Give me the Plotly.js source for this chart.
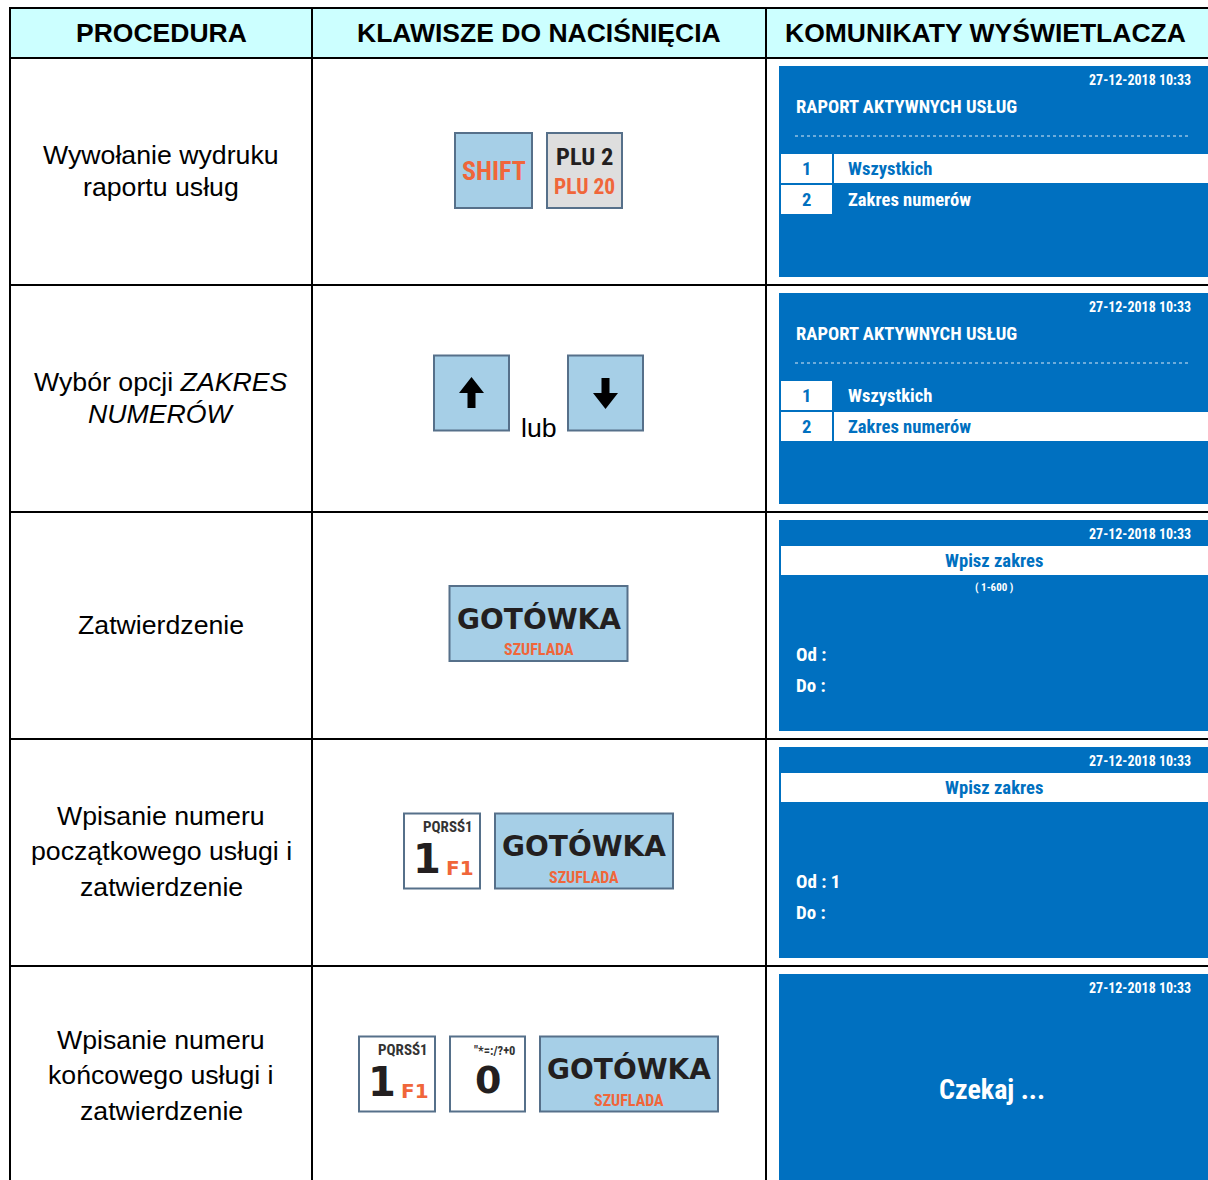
<!DOCTYPE html>
<html><head><meta charset="utf-8">
<script src="https://cdn.plot.ly/plotly-3.0.1.min.js"></script>
<style>html,body{margin:0;padding:0;background:#fff;overflow:hidden}</style>
</head><body><div id="chart" style="width:1208px;height:1180px"></div>
<script>
// ---------------- DATA ----------------
const headers = ["PROCEDURA", "KLAWISZE DO NACIŚNIĘCIA", "KOMUNIKATY WYŚWIETLACZA"];
const procedures = [
  ["Wywołanie wydruku", "raportu usług"],
  ["Wybór opcji <i>ZAKRES</i>", "<i>NUMERÓW</i>"],
  ["Zatwierdzenie"],
  ["Wpisanie numeru", "początkowego usługi i", "zatwierdzenie"],
  ["Wpisanie numeru", "końcowego usługi i", "zatwierdzenie"]
];
const keyRows = [["SHIFT", "PLU"], ["UP", "lub", "DOWN"], ["GOTOWKA"], ["1", "GOTOWKA"], ["1", "0", "GOTOWKA"]];
const keyLabels = {
  SHIFT: ["SHIFT"],
  PLU: ["PLU 2", "PLU 20"],
  GOTOWKA: ["GOTÓWKA", "SZUFLADA"],
  "1": ["PQRSŚ1", "1", "F1"],
  "0": ["\"*=:/?+0", "0"],
  UP: [], DOWN: []
};
const displayDate = "27-12-2018 10:33";
const displayKinds = ["menu", "menu", "range", "range", "wait"];
const menuTitle = "RAPORT AKTYWNYCH USŁUG";
const menuNumbers = ["1", "2"];
const menuOptions = ["Wszystkich", "Zakres numerów"];
const menuSelected = [0, 1, null, null, null];
const rangePrompt = "Wpisz zakres";
const rangeHints = [null, null, "( 1-600 )", "", null];
const rangeFields = ["Od :", "Do :"];
const rangeFromValues = [null, null, "", " 1", null];
const waitText = "Czekaj ...";

// ---------------- LAYOUT / STYLE ----------------
const W = 1208, H = 1180;
const colX = [10, 312, 766, 1210];
const headTop = 8, headBot = 58, rowH = 227;
const rowTop = i => headBot + i * rowH;
const SANS = "Liberation Sans, Arial, sans-serif";
const NARROW = "Roboto Condensed, Roboto, sans-serif";
const WIDE = "DejaVu Sans, Verdana, sans-serif";
const ORANGE = "#f0663a", DARK = "#231f20", KEYBLUE = "#a6cfe7", KEYEDGE = "#56708a";
const DISP = "#0070c0";

const procCenterOff = [113, 113, 113, 112, 109];
const procSpacing = [32, 32, 32, 35.5, 35.5];
const keyCenterOff = [112.5, 108, 111.5, 112, 108];
const keyH = 75;
const keyWidth = { SHIFT: 77, PLU: 75, UP: 75, DOWN: 75, GOTOWKA: 178, "1": 76, "0": 75, lub: 29 };
const keyFill = { SHIFT: KEYBLUE, PLU: "#dedede", UP: KEYBLUE, DOWN: KEYBLUE, GOTOWKA: KEYBLUE, "1": "#ffffff", "0": "#ffffff" };
const keyTextStyle = {
  SHIFT: [{dx: 0, dy: 0, size: 26, color: ORANGE, font: NARROW}],
  PLU: [{dx: 0, dy: -14, size: 24.5, color: DARK, font: NARROW}, {dx: 0, dy: 16, size: 21.5, color: ORANGE, font: NARROW}],
  GOTOWKA: [{dx: 0, dy: -5, size: 28, color: DARK, font: WIDE}, {dx: 0, dy: 26, size: 16, color: ORANGE, font: NARROW}],
  "1": [{dx: 6, dy: -24, size: 15, color: "#333", font: NARROW}, {dx: -15, dy: 8, size: 40, color: DARK, font: WIDE}, {dx: 18, dy: 17, size: 20, color: ORANGE, font: WIDE}],
  "0": [{dx: 7, dy: -24, size: 12.5, color: "#333", font: NARROW}, {dx: 0, dy: 6, size: 38, color: DARK, font: WIDE}]
};
const keyGap = 15, keysCenterX = 538.5;

const shapes = [];
const ann = [];
function rect(x0, y0, x1, y1, fill, lineColor, lw) {
  shapes.push({type: "rect", xref: "x", yref: "y", x0, y0, x1, y1, fillcolor: fill,
    line: {color: lineColor || fill, width: lw === undefined ? 0 : lw}, layer: "above"});
}
function line(x0, y0, x1, y1, color, w, dash) {
  shapes.push({type: "line", xref: "x", yref: "y", x0, y0, x1, y1, line: {color, width: w, dash: dash || "solid"}, layer: "above"});
}
function text(t, x, y, size, color, font, xanchor) {
  ann.push({text: t, x, y, xref: "x", yref: "y", showarrow: false, xanchor: xanchor || "center", yanchor: "middle",
    font: {size, color, family: font}, borderpad: 0});
}

// header
rect(colX[0], headTop, W + 2, headBot, "#ccffff");
const headCenters = [161, 538.5, 985];
headers.forEach((h, i) => text("<b>" + h + "</b>", headCenters[i], 33, 26.5, "#000", SANS));

// procedures
procedures.forEach((lines, r) => {
  const c = rowTop(r) + procCenterOff[r];
  const sp = procSpacing[r];
  lines.forEach((l, k) => text(l, 161, c + (k - (lines.length - 1) / 2) * sp, 26.7, "#000", SANS));
});

// keys
keyRows.forEach((row, r) => {
  const cy = rowTop(r) + keyCenterOff[r];
  const widths = row.map(k => keyWidth[k]);
  const total = widths.reduce((a, b) => a + b, 0) + keyGap * (row.length - 1);
  let x = keysCenterX - total / 2;
  row.forEach((k, j) => {
    const w = widths[j];
    const cx = x + w / 2;
    if (k === "lub") {
      text(k, cx, cy + 35, 26.7, "#000", SANS);
    } else {
      rect(x, cy - keyH / 2, x + w, cy + keyH / 2, keyFill[k], KEYEDGE, 2);
      if (k === "UP" || k === "DOWN") {
        const s = k === "UP" ? 1 : -1;
        const p = [[0, -16], [12.5, 0], [4, 0], [4, 15], [-4, 15], [-4, 0], [-12.5, 0]]
          .map(([dx, dy]) => (cx + dx) + "," + (cy + s * dy));
        shapes.push({type: "path", xref: "x", yref: "y", path: "M" + p.join(" L") + " Z",
          fillcolor: "#000", line: {color: "#000", width: 0}, layer: "above"});
      } else {
        keyLabels[k].forEach((lab, m) => {
          const st = keyTextStyle[k][m];
          text("<b>" + lab + "</b>", cx + st.dx, cy + st.dy, st.size, st.color, st.font);
        });
      }
    }
    x += w + keyGap;
  });
});

// displays
displayKinds.forEach((kind, r) => {
  const pt = rowTop(r) + 8;
  rect(779, pt, W + 2, pt + 211, DISP);
  text("<b>" + displayDate + "</b>", 1192, pt + 14, 14, "#fff", NARROW, "right");
  if (kind === "menu") {
    text("<b>" + menuTitle + "</b>", 795, pt + 41, 18.6, "#fff", NARROW, "left");
    line(795, pt + 70, 1189, pt + 70, "#dbe8f5", 1, "dot");
    menuOptions.forEach((opt, i) => {
      const top = pt + 88 + i * 31, bot = top + 29, mid = (top + bot) / 2;
      const sel = menuSelected[r] === i;
      rect(781, top, 832, bot, "#fff");
      text("<b>" + menuNumbers[i] + "</b>", 806, mid, 18.6, DISP, NARROW);
      if (sel) rect(834, top, W + 2, bot, "#fff");
      text("<b>" + opt + "</b>", 847, mid, 18.6, sel ? DISP : "#fff", NARROW, "left");
    });
  } else if (kind === "range") {
    rect(781, pt + 26, W + 2, pt + 55, "#fff");
    text("<b>" + rangePrompt + "</b>", 994, pt + 40.5, 18.6, DISP, NARROW);
    if (rangeHints[r]) text("<b>" + rangeHints[r] + "</b>", 994, pt + 67, 11, "#fff", NARROW);
    text("<b>" + rangeFields[0] + rangeFromValues[r] + "</b>", 795, pt + 134, 19, "#fff", NARROW, "left");
    text("<b>" + rangeFields[1] + "</b>", 795, pt + 165, 19, "#fff", NARROW, "left");
  } else {
    text("<b>" + waitText + "</b>", 992, pt + 115, 28, "#fff", NARROW);
  }
});

// table grid
[headTop, headBot, rowTop(1), rowTop(2), rowTop(3), rowTop(4)].forEach(y => line(colX[0] - 1, y, W + 2, y, "#000", 2));
colX.slice(0, 3).forEach(x => line(x, headTop, x, H + 5, "#000", 2));

const layout = {
  width: W, height: H,
  margin: {l: 0, r: 0, t: 0, b: 0, pad: 0},
  paper_bgcolor: "#fff", plot_bgcolor: "#fff",
  xaxis: {range: [0, W], visible: false, fixedrange: true},
  yaxis: {range: [H, 0], visible: false, fixedrange: true},
  showlegend: false,
  shapes, annotations: ann
};
Plotly.newPlot("chart", [{x: [], y: [], type: "scatter", mode: "markers", hoverinfo: "skip"}], layout, {staticPlot: true, displayModeBar: false});
</script></body></html>
